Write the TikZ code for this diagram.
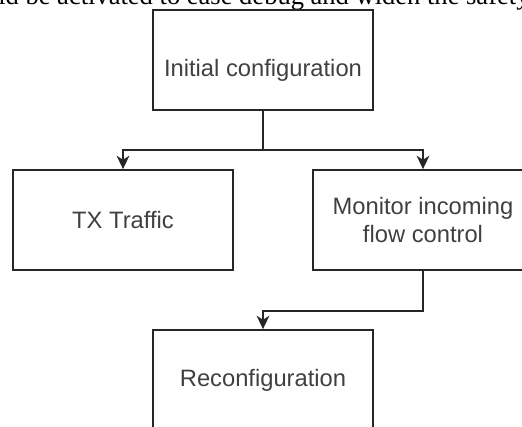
\documentclass[tikz,border=0pt]{standalone}
\usepackage{fontspec}
\setmainfont{Liberation Serif}
\newfontfamily\boxfont{Liberation Sans}
\usetikzlibrary{arrows.meta}
\begin{document}
\begin{tikzpicture}[x=0.75pt,y=-0.75pt,
  stepfont/.style={font=\boxfont\fontsize{17.8}{21}\selectfont, text=black!75},
  stepbox/.style={draw=black!85, line width=1.35pt, minimum width=165pt,
    minimum height=75pt, inner sep=0pt, align=center, stepfont},
  link/.style={draw=black!85, line width=1.2pt},
  flow/.style={link, -{Stealth[length=10pt,width=9.5pt,inset=3pt]}}]
\useasboundingbox (0,0) rectangle (522,427);
\clip (0,0) rectangle (522,427);

% running text of the page, cut by the top edge
\node[anchor=base west, inner sep=0pt, font=\fontsize{19.9}{24}\selectfont]
  (pagetext) at (-2,5) {ld be activated to ease debug and widen the safety};

% process steps
\node[stepbox, label={[stepfont, yshift=-7.5pt]center:Initial configuration}]
  (init) at (263,60) {};
\node[stepbox] (tx) at (123,220) {TX Traffic};
\node[stepbox] (mon) at (423,220) {Monitor incoming\\flow control};
\node[stepbox] (reconf) at (263,380) {Reconfiguration};

% connectors
\coordinate (split) at (263,150);
\draw[link] (init.south) -- (split);
\draw[flow] (split) -| (tx.north);
\draw[flow] (split) -| (mon.north);
\draw[flow] (mon.south) -- ++(0,40) -| (reconf.north);
\end{tikzpicture}
\end{document}
